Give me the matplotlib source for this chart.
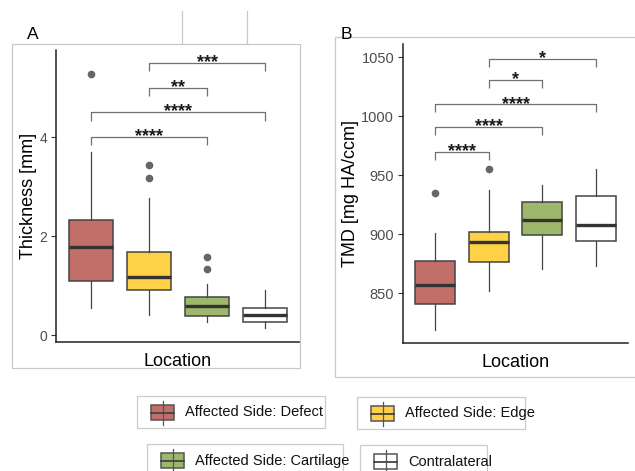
import matplotlib
matplotlib.use("Agg")
import matplotlib.pyplot as plt
from matplotlib.patches import Rectangle
from matplotlib.lines import Line2D

plt.rcParams['font.family'] = ['Liberation Sans', 'DejaVu Sans']

# data
groups = ['Affected Side: Defect', 'Affected Side: Edge',
          'Affected Side: Cartilage', 'Contralateral']
colors = ['#C26E69', '#FFD147', '#9DB86A', '#FFFFFF']

# panel A: thickness [mm]
thick_lo = [0.54, 0.40, 0.27, 0.15]
thick_q1 = [1.10, 0.92, 0.39, 0.26]
thick_med = [1.77, 1.18, 0.59, 0.40]
thick_q3 = [2.32, 1.68, 0.76, 0.54]
thick_hi = [3.70, 2.76, 1.04, 0.92]
thick_out = [[5.28], [3.43, 3.18], [1.58, 1.33], []]
thick_sig = [(1, 3, 4.01, '****'), (1, 4, 4.50, '****'),
             (2, 3, 5.00, '**'), (2, 4, 5.50, '***')]

# panel B: TMD [mg HA/ccm]
tmd_lo = [819, 852, 870, 873]
tmd_q1 = [841, 876, 899, 894]
tmd_med = [857, 893, 912, 908]
tmd_q3 = [877, 902, 927, 932]
tmd_hi = [901, 937, 942, 955]
tmd_out = [[935], [955], [], []]
tmd_sig = [(1, 2, 970, '****'), (1, 3, 991, '****'), (1, 4, 1010, '****'),
           (2, 3, 1030.5, '*'), (2, 4, 1048.5, '*')]

W, H = 635, 471
fig = plt.figure(figsize=(W / 100, H / 100), dpi=100)


def px(x0, y0, x1, y1):
    return [x0 / W, 1 - y1 / H, (x1 - x0) / W, (y1 - y0) / H]


def fx(x):
    return x / W


def fy(y):
    return 1 - y / H


# panel frames and stray lines from the composite
fig.patches.append(Rectangle((fx(12), fy(368)), fx(300) - fx(12), fy(44) - fy(368),
                             transform=fig.transFigure, fill=False,
                             edgecolor='#C8C8C8', linewidth=0.9))
fig.patches.append(Rectangle((fx(335), fy(377)), fx(645) - fx(335), fy(37) - fy(377),
                             transform=fig.transFigure, fill=False,
                             edgecolor='#C8C8C8', linewidth=0.9, clip_on=False))
for xl in (182, 247):
    fig.lines.append(Line2D([fx(xl), fx(xl)], [fy(11), fy(44)],
                            transform=fig.transFigure, color='#C8C8C8', linewidth=0.9))

fig.text(fx(27), fy(39), 'A', fontsize=12.5, ha='left', va='baseline')
fig.text(fx(341), fy(39), 'B', fontsize=12.5, ha='left', va='baseline')


def draw_panel(ax, lo, q1, med, q3, hi, out, sig, tip, ylabel, yticks, ylim,
               tsize, lpad):
    stats = []
    for i in range(4):
        stats.append(dict(whislo=lo[i], q1=q1[i], med=med[i], q3=q3[i],
                          whishi=hi[i], fliers=out[i]))
    bp = ax.bxp(stats, positions=[1, 2, 3, 4], widths=0.75, patch_artist=True,
                showcaps=False,
                boxprops=dict(edgecolor='#444444', linewidth=1.1),
                medianprops=dict(color='#333333', linewidth=2.4),
                whiskerprops=dict(color='#444444', linewidth=0.9),
                flierprops=dict(marker='o', markerfacecolor='#666666',
                                markeredgecolor='#666666', markersize=4.5))
    for patch, c in zip(bp['boxes'], colors):
        patch.set_facecolor(c)
    for i, j, y, lab in sig:
        ax.plot([i, i, j, j], [y - tip, y, y, y - tip], color='#707070',
                linewidth=0.9, solid_capstyle='butt')
        ax.annotate(lab, ((i + j) / 2, y), xytext=(0, -3),
                    textcoords='offset points', ha='center', va='baseline',
                    fontsize=13, fontweight='bold', color='#1A1A1A')
    ax.set_xlim(0.4, 4.6)
    ax.set_ylim(*ylim)
    ax.set_xticks([])
    ax.set_yticks(yticks)
    ax.tick_params(axis='y', length=3.8, width=0.8, color='#333333',
                   labelsize=tsize, labelcolor='#4D4D4D', pad=2.5)
    for s in ('top', 'right'):
        ax.spines[s].set_visible(False)
    for s in ('left', 'bottom'):
        ax.spines[s].set_linewidth(1.1)
        ax.spines[s].set_color('#222222')
    ax.set_ylabel(ylabel, fontsize=13, labelpad=lpad)
    ax.set_xlabel('Location', fontsize=13, labelpad=8)


axA = fig.add_axes(px(56, 50, 300, 342))
draw_panel(axA, thick_lo, thick_q1, thick_med, thick_q3, thick_hi, thick_out,
           thick_sig, 0.17, 'Thickness [mm]', [0, 2, 4], (-0.14, 5.76), 10, 2)

axB = fig.add_axes(px(403, 44, 628, 343))
draw_panel(axB, tmd_lo, tmd_q1, tmd_med, tmd_q3, tmd_hi, tmd_out,
           tmd_sig, 6.8, 'TMD [mg HA/ccm]', [850, 900, 950, 1000, 1050],
           (807.6, 1061.3), 10.5, 1.5)

# legend boxes
legend_boxes = [(137, 396, 325, 428), (357, 397, 525, 429),
                (147, 444, 343, 476), (360, 445, 487, 477)]
for (x0, y0, x1, y1), lab, c in zip(legend_boxes, groups, colors):
    fig.patches.append(Rectangle((fx(x0), fy(y1)), fx(x1) - fx(x0), fy(y0) - fy(y1),
                                 transform=fig.transFigure, fill=False,
                                 edgecolor='#CCCCCC', linewidth=0.9, clip_on=False))
    kx0, kx1 = x0 + 14, x0 + 37
    cy = (y0 + y1) / 2 + 0.5
    kx = (kx0 + kx1) / 2
    fig.lines.append(Line2D([fx(kx), fx(kx)], [fy(cy - 12), fy(cy + 12)],
                            transform=fig.transFigure, color='#555555', linewidth=0.9))
    fig.patches.append(Rectangle((fx(kx0), fy(cy + 7.5)), fx(kx1) - fx(kx0),
                                 fy(cy - 7.5) - fy(cy + 7.5),
                                 transform=fig.transFigure, facecolor=c,
                                 edgecolor='#555555', linewidth=1.1))
    fig.lines.append(Line2D([fx(kx0), fx(kx1)], [fy(cy), fy(cy)],
                            transform=fig.transFigure, color='#444444', linewidth=1.3))
    fig.text(fx(x0 + 48), fy(cy), lab, fontsize=10.5, ha='left', va='center',
             color='#111111')

fig.savefig('out.png', dpi=100)
